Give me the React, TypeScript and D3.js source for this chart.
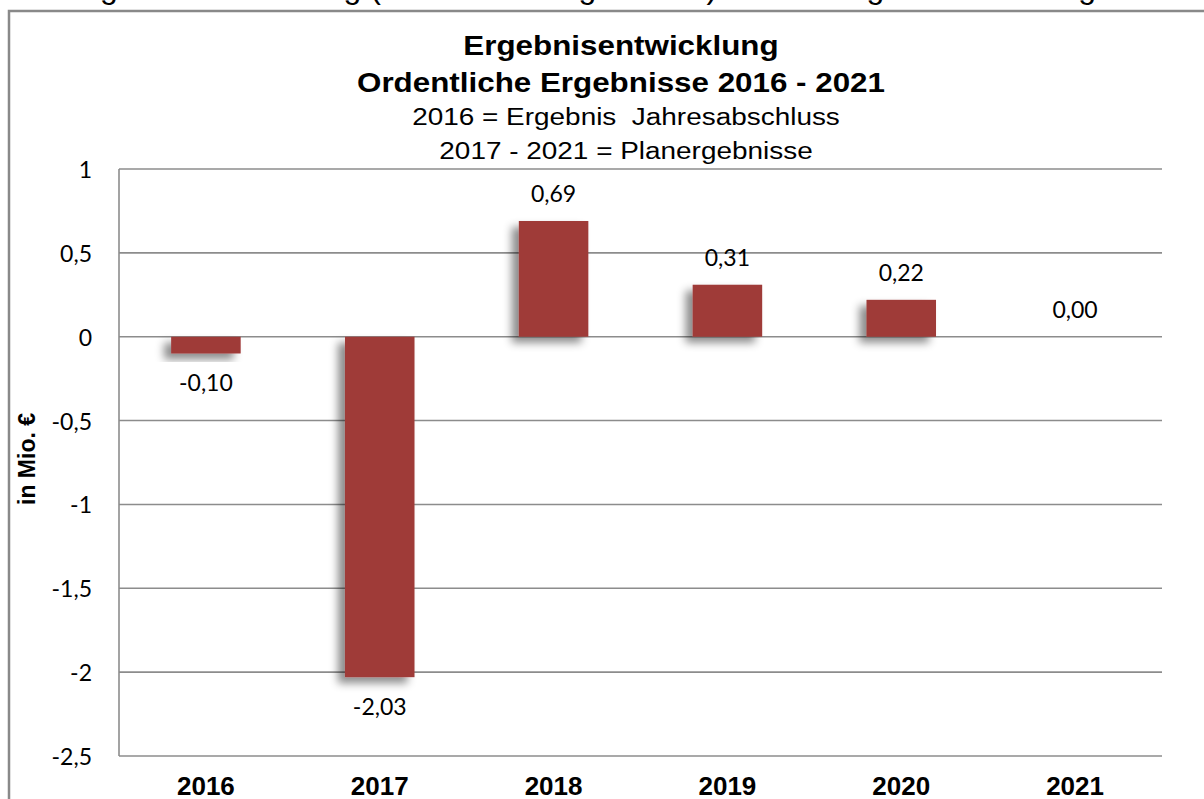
import React from "react";
import * as d3 from "d3";

const years: string[] = ["2016", "2017", "2018", "2019", "2020", "2021"];
const values: number[] = [-0.1, -2.03, 0.69, 0.31, 0.22, 0.0];
const yTicks: number[] = [1, 0.5, 0, -0.5, -1, -1.5, -2, -2.5];
const introText = "Die Ergebnisentwicklung (ordentliche Ergebnisse) stellt sich grafisch wie folgt dar:";
const titleLines: string[] = ["Ergebnisentwicklung", "Ordentliche Ergebnisse 2016 - 2021"];
const subtitleLines: string[] = ["2016 = Ergebnis  Jahresabschluss", "2017 - 2021 = Planergebnisse"];
const yAxisTitle = "in Mio. €";

const W = 1204;
const H = 799;
const plot = { left: 119, right: 1162, top: 169, bottom: 756 };

const locale = d3.formatLocale({
  decimal: ",",
  thousands: ".",
  grouping: [3],
  currency: ["", " €"],
  minus: "-",
});
const fmtVal = locale.format(".2f");
const fmtTick = (v: number) => locale.format("~g")(v);

const ARIAL = "'Liberation Sans', Arial, sans-serif";
const NUMFONT = "Lato, 'Open Sans', sans-serif";
const BAR = "#9F3B39";
const GRID = "#8C8C8C";

export default function App() {
  const x = d3
    .scaleBand<string>()
    .domain(years)
    .range([plot.left, plot.right])
    .paddingInner(0.6)
    .paddingOuter(0.3);
  const y = d3.scaleLinear().domain([-2.5, 1]).range([plot.bottom, plot.top]);
  const cx = (c: string) => (x(c) as number) + x.bandwidth() / 2;

  return (
    <div style={{ position: "absolute", left: 0, top: 0, width: W, height: H, background: "#fff" }}>
      <svg width={W} height={H} viewBox={`0 0 ${W} ${H}`} style={{ display: "block" }}>
        <defs>
          <filter id="shadow" x="-50%" y="-50%" width="200%" height="200%">
            <feDropShadow dx={-7} dy={6} stdDeviation={4} floodColor="#000" floodOpacity={0.45} />
          </filter>
        </defs>
        <rect x={0} y={0} width={W} height={H} fill="#fff" />
        <text x={11} y={-2.5} fontFamily={ARIAL} fontSize={32} fill="#000">
          {introText}
        </text>
        <rect x={9} y={11} width={1400} height={1000} fill="none" stroke="#898989" strokeWidth={2.5} />

        {titleLines.map((t, i) => (
          <text
            key={t}
            transform={`translate(621,${55 + i * 37}) scale(1.12,1)`}
            textAnchor="middle"
            fontFamily={ARIAL}
            fontWeight="bold"
            fontSize={28}
            fill="#000"
          >
            {t}
          </text>
        ))}
        {subtitleLines.map((t, i) => (
          <text
            key={t}
            transform={`translate(626,${125 + i * 34}) scale(1.14,1)`}
            textAnchor="middle"
            fontFamily={ARIAL}
            fontSize={24.5}
            fill="#000"
            style={{ whiteSpace: "pre" }}
          >
            {t}
          </text>
        ))}

        {yTicks.map((t) => (
          <g key={t}>
            <line x1={plot.left} x2={plot.right} y1={y(t)} y2={y(t)} stroke={GRID} strokeWidth={1.6} />
            <text
              x={92}
              y={y(t)}
              textAnchor="end"
              dominantBaseline="central"
              fontFamily={NUMFONT}
              fontSize={23}
              fill="#000"
            >
              {fmtTick(t)}
            </text>
          </g>
        ))}
        <line x1={plot.left} x2={plot.left} y1={plot.top} y2={plot.bottom} stroke={GRID} strokeWidth={1.6} />

        {years.map((c, i) => {
          const v = values[i];
          const y0 = y(0);
          const y1 = y(v);
          const top = Math.min(y0, y1);
          const h = Math.abs(y1 - y0);
          return h > 0 ? (
            <rect key={c} x={x(c)} y={top} width={x.bandwidth()} height={h} fill={BAR} filter="url(#shadow)" />
          ) : null;
        })}

        {years.map((c, i) => {
          const v = values[i];
          const ly = v < 0 ? y(v) + 29 : y(v) - 28;
          return (
            <text
              key={c}
              x={cx(c)}
              y={ly}
              textAnchor="middle"
              dominantBaseline="central"
              fontFamily={NUMFONT}
              fontSize={23}
              fill="#000"
            >
              {fmtVal(v)}
            </text>
          );
        })}

        {years.map((c) => (
          <text
            key={c}
            x={cx(c)}
            y={795}
            textAnchor="middle"
            fontFamily={ARIAL}
            fontWeight="bold"
            fontSize={26}
            fill="#000"
          >
            {c}
          </text>
        ))}

        <text
          transform={`translate(35,459) rotate(-90)`}
          textAnchor="middle"
          fontFamily={ARIAL}
          fontWeight="bold"
          fontSize={23}
          fill="#000"
        >
          {yAxisTitle}
        </text>
      </svg>
    </div>
  );
}
